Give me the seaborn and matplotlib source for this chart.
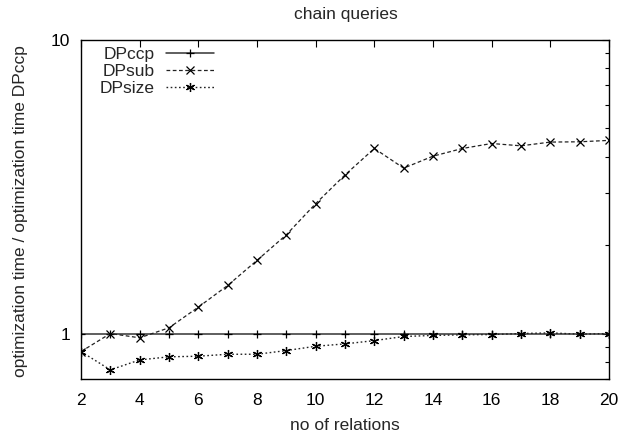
import numpy as np
import pandas as pd
import matplotlib
matplotlib.use("Agg")
import matplotlib.pyplot as plt
import seaborn as sns
from matplotlib.ticker import FixedLocator, NullFormatter

sns.set_theme(style="white")
plt.rcParams['font.family'] = ['Liberation Sans', 'DejaVu Sans']

relations = list(range(2, 21))
dpccp = [1.0] * 19
dpsub = [0.868, 1.0, 0.967, 1.046, 1.23, 1.458, 1.775, 2.17, 2.77, 3.47, 4.27,
         3.66, 4.02, 4.27, 4.44, 4.36, 4.49, 4.50, 4.55]
dpsize = [0.868, 0.752, 0.813, 0.833, 0.837, 0.850, 0.850, 0.875, 0.905, 0.922,
          0.946, 0.977, 0.985, 0.990, 0.992, 1.0, 1.005, 0.995, 1.0]

x_ticks = [2, 4, 6, 8, 10, 12, 14, 16, 18, 20]
y_ticks = [1, 10]

df = pd.DataFrame({
    "relations": relations * 3,
    "ratio": dpccp + dpsub + dpsize,
    "algo": ["DPccp"] * 19 + ["DPsub"] * 19 + ["DPsize"] * 19,
})

fig = plt.figure(figsize=(6.31, 4.36), dpi=100)
ax = fig.add_axes([81/631, 1-379/436, (609-81)/631, (379-40)/436])

FS = 12.5
asterisk = (6, 2, 0)
styles = {
    "DPccp": dict(color="#333333", linestyle="-", marker="+", ms=6, lw=1.1),
    "DPsub": dict(color="#222222", linestyle=(0, (3, 2)), marker="x", ms=6, lw=0.9),
    "DPsize": dict(color="#222222", linestyle=(0, (1.2, 1.8)), marker=asterisk, ms=6.5, lw=1.0),
}
for name in ["DPccp", "DPsub", "DPsize"]:
    s = styles[name]
    sub = df[df["algo"] == name]
    sns.lineplot(data=sub, x="relations", y="ratio", ax=ax, label=name,
                 color=s["color"], linestyle=s["linestyle"], marker=s["marker"],
                 markersize=s["ms"], linewidth=s["lw"], markeredgewidth=0.9,
                 markeredgecolor="black", markerfacecolor="none")

ax.set_yscale("log")
ax.set_xlim(2, 20)
ax.set_ylim(0.7, 10)
ax.xaxis.set_major_locator(FixedLocator(x_ticks))
ax.yaxis.set_major_locator(FixedLocator(y_ticks))
ax.set_yticklabels([str(v) for v in y_ticks])
ax.yaxis.set_minor_locator(FixedLocator([0.7, 0.8, 0.9, 2, 3, 4, 5, 6, 7, 8, 9]))
ax.yaxis.set_minor_formatter(NullFormatter())

for sp in ax.spines.values():
    sp.set_color("black")
    sp.set_linewidth(1.0)

ax.tick_params(axis="both", which="both", direction="in", top=True, right=True,
               labelsize=FS, colors="black", pad=8)
ax.tick_params(axis="x", pad=10)
ax.tick_params(which="major", length=5, width=0.8)
ax.tick_params(which="minor", length=3, width=0.8)

ax.set_xlabel("no of relations", fontsize=FS, labelpad=7)
ax.set_ylabel("optimization time / optimization time DPccp", fontsize=FS)
ax.yaxis.set_label_coords(-0.100, 0.495)
fig.text(346/631, 1-15/436, "chain queries", ha="center", va="center", fontsize=FS)

leg = ax.legend(loc="upper left", bbox_to_anchor=(0.015, 1.01), markerfirst=False,
                frameon=False, fontsize=FS, handlelength=2.8, handletextpad=0.65,
                labelspacing=0.1, borderaxespad=0.2)
for t in leg.get_texts():
    t.set_ha("right")

fig.savefig("out.png", dpi=100)
